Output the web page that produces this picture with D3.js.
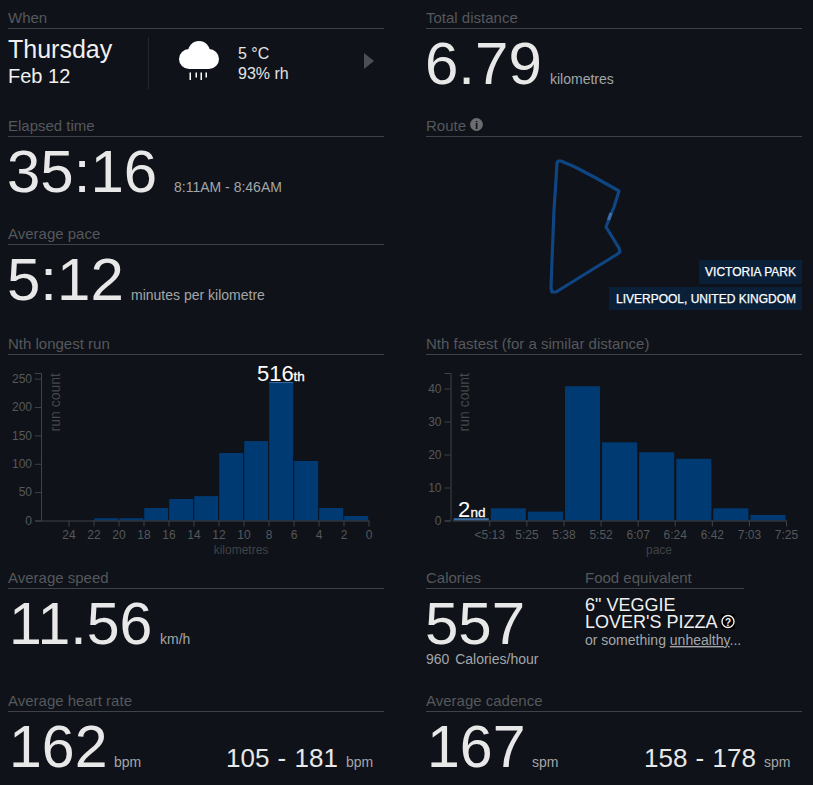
<!DOCTYPE html>
<html>
<head>
<meta charset="utf-8">
<script src="https://cdn.jsdelivr.net/npm/d3@7"></script>
<style>
  html, body { margin: 0; padding: 0; background: #0f1218; }
  svg { display: block; font-family: "Liberation Sans", Arial, sans-serif; }
  text { white-space: pre; }
</style>
</head>
<body>
<svg id="page" width="813" height="785"></svg>
<script>
// longest run histogram, bins run from 0 km upwards in 2 km steps
const distanceBins = [0, 2, 4, 6, 8, 10, 12, 14, 16, 18, 20];
const distanceCounts = [8, 22, 105, 244, 140, 119, 43, 38, 22, 4, 4];
const distanceTicks = [0, 2, 4, 6, 8, 10, 12, 14, 16, 18, 20, 22, 24];
const countTicks = [0, 50, 100, 150, 200, 250];
const distanceCurrentBin = 3;

// fastest run histogram
const paceLabels = ["<5:13", "5:25", "5:38", "5:52", "6:07", "6:24", "6:42", "7:03", "7:25"];
const paceCounts = [1, 4, 3, 41, 24, 21, 19, 4, 2];
const paceCountTicks = [0, 10, 20, 30, 40];

// route trace in page pixels
const routeX = [558, 561, 575, 596, 619, 614, 609, 606, 619, 620, 616, 590, 556, 552, 551, 552, 554, 556, 557];
const routeY = [161, 161, 167, 178, 191, 207, 219, 227, 248, 252, 255, 271, 292, 292, 288, 260, 210, 180, 163];
const routeHighlight = [[608.5, 220], [611, 213]];

const placeLabels = ["VICTORIA PARK", "LIVERPOOL, UNITED KINGDOM"];

const svg = d3.select("#page");

const labelColor = "#55585c";
const ruleColor = "#3f4246";
const bigColor = "#e8e8e8";
const subColor = "#a3a6a9";
const barColor = "#003a72";
const barHighlight = "#3b6ea8";

function addText(x, y, str, size, color, anchor) {
  return svg.append("text")
    .attr("x", x)
    .attr("y", y)
    .attr("font-size", size)
    .attr("fill", color)
    .attr("text-anchor", anchor || "start")
    .text(str);
}

function sectionHead(x, y, str, width) {
  addText(x, y, str, 15, labelColor);
  svg.append("line")
    .attr("x1", x).attr("x2", x + width)
    .attr("y1", y + 5.5).attr("y2", y + 5.5)
    .attr("stroke", ruleColor);
}

// section headers
sectionHead(8, 23, "When", 376);
sectionHead(426, 23, "Total distance", 376);
sectionHead(8, 131, "Elapsed time", 376);
sectionHead(426, 131, "Route", 376);
sectionHead(8, 239, "Average pace", 376);
sectionHead(8, 349, "Nth longest run", 376);
sectionHead(426, 349, "Nth fastest (for a similar distance)", 376);
sectionHead(8, 583, "Average speed", 376);
sectionHead(426, 583, "Calories", 159);
sectionHead(585, 583, "Food equivalent", 159);
sectionHead(8, 706, "Average heart rate", 376);
sectionHead(426, 706, "Average cadence", 376);

// when row
addText(8, 58, "Thursday", 25, "#f0f0f0");
addText(8, 83, "Feb 12", 20, "#f0f0f0");
svg.append("line")
  .attr("x1", 148.5).attr("x2", 148.5)
  .attr("y1", 37).attr("y2", 89)
  .attr("stroke", "#24272b");

// weather icon
const cloud = svg.append("g").attr("fill", "#fff");
cloud.append("circle").attr("cx", 199).attr("cy", 52).attr("r", 11);
cloud.append("circle").attr("cx", 189).attr("cy", 59).attr("r", 10);
cloud.append("circle").attr("cx", 209).attr("cy", 59).attr("r", 10);
cloud.append("rect").attr("x", 189).attr("y", 55).attr("width", 20).attr("height", 14);
[190, 196, 201, 206].forEach((x, i) => {
  cloud.append("rect")
    .attr("x", x - 0.5).attr("y", 72.5)
    .attr("width", 1.5).attr("height", i % 2 ? 5 : 7.5);
});

addText(238, 59, "5 °C", 16, "#e4e4e4");
addText(238, 79, "93% rh", 16, "#e4e4e4");
svg.append("path")
  .attr("d", "M364,53L374,61L364,69Z")
  .attr("fill", "#4b4e52");

// big numbers
addText(425, 84, "6.79", 60, bigColor);
addText(550, 84, "kilometres", 14, subColor);
addText(7, 192, "35:16", 60, bigColor);
addText(174, 192, "8:11AM - 8:46AM", 14, subColor);
addText(7, 300, "5:12", 60, bigColor);
addText(131, 300, "minutes per kilometre", 14, subColor);
addText(9, 644, "11.56", 59, bigColor);
addText(160, 644, "km/h", 14, subColor);
addText(425, 644, "557", 60, bigColor);
addText(426, 664, "960  Calories/hour", 14, subColor).attr("word-spacing", -1);
addText(9, 767, "162", 59, bigColor);
addText(114, 767, "bpm", 14, subColor);
addText(226, 767, "105 - 181", 26, bigColor).attr("word-spacing", 1);
addText(346, 767, "bpm", 14, subColor);
addText(427, 767, "167", 59, bigColor);
addText(532, 767, "spm", 14, subColor);
addText(644, 767, "158 - 178", 26, bigColor).attr("word-spacing", 1);
addText(764, 767, "spm", 14, subColor);

// food block
addText(585, 611, "6\" VEGGIE", 18, "#f0f0f0");
addText(585, 628, "LOVER'S PIZZA", 18, "#f0f0f0");
svg.append("rect").attr("x", 721).attr("y", 614).attr("width", 14).attr("height", 15).attr("fill", "#000");
svg.append("circle").attr("cx", 728).attr("cy", 621.5).attr("r", 6)
  .attr("fill", "none").attr("stroke", "#f0f0f0").attr("stroke-width", 1.4);
addText(728, 625.5, "?", 10, "#f0f0f0", "middle").attr("font-weight", "bold");
const orText = addText(585, 645, "or something ", 14, subColor);
orText.append("tspan").attr("text-decoration", "underline").text("unhealthy");
orText.append("tspan").text("...");

// route info icon
svg.append("circle").attr("cx", 476.5).attr("cy", 124.5).attr("r", 6.4).attr("fill", "#6a6d70");
addText(476.5, 129, "i", 11.5, "#0f1218", "middle").attr("font-weight", "bold");

// route
const routeLine = d3.line().curve(d3.curveLinear);
svg.append("path")
  .attr("d", routeLine(routeX.map((x, i) => [x, routeY[i]])) + "Z")
  .attr("fill", "none")
  .attr("stroke", "#0e4582")
  .attr("stroke-width", 3.2)
  .attr("stroke-linejoin", "round");
svg.append("path")
  .attr("d", routeLine(routeHighlight))
  .attr("fill", "none")
  .attr("stroke", barHighlight)
  .attr("stroke-width", 3.2);

// place tags, right aligned to the rule
const tagBoxes = [[699, 260, 103, 24], [609, 287, 193, 23]];
placeLabels.forEach((str, i) => {
  const b = tagBoxes[i];
  svg.append("rect")
    .attr("x", b[0]).attr("y", b[1])
    .attr("width", b[2]).attr("height", b[3])
    .attr("fill", "#0a2039");
  addText(b[0] + b[2] - 6, b[1] + 16, str, 12, "#fff", "end")
    .attr("stroke", "#fff").attr("stroke-width", 0.25);
});

function styleAxis(g) {
  g.selectAll("path, line").attr("stroke", ruleColor).attr("stroke-width", 1);
  g.selectAll("text").attr("fill", labelColor).attr("font-size", 12)
    .attr("font-family", "Liberation Sans, Arial, sans-serif");
}

function yTitle(x, str) {
  svg.append("text")
    .attr("transform", `translate(${x},373) rotate(-90)`)
    .attr("text-anchor", "end")
    .attr("font-size", 14)
    .attr("fill", "#45484c")
    .text(str);
}

// left histogram
const xDist = d3.scaleLinear().domain([0, 26.2]).range([368.5, 41]);
const yDist = d3.scaleLinear().domain([0, 260]).range([520.5, 373]);

svg.selectAll(".dist-bar")
  .data(distanceCounts)
  .join("rect")
  .attr("class", "dist-bar")
  .attr("x", (d, i) => xDist(distanceBins[i] + 2) + 0.7)
  .attr("y", d => yDist(d))
  .attr("width", (d, i) => xDist(distanceBins[i]) - xDist(distanceBins[i] + 2) - 1)
  .attr("height", d => yDist(0) - yDist(d))
  .attr("fill", barColor);

// this run's place in the bin, a thin cap on its bar
svg.append("rect")
  .attr("x", xDist(distanceBins[distanceCurrentBin] + 2) + 0.7)
  .attr("y", yDist(distanceCounts[distanceCurrentBin]))
  .attr("width", xDist(distanceBins[distanceCurrentBin]) - xDist(distanceBins[distanceCurrentBin] + 2) - 1)
  .attr("height", 1)
  .attr("fill", barHighlight);

svg.append("g")
  .attr("transform", "translate(0,520.5)")
  .call(d3.axisBottom(xDist).tickValues(distanceTicks).tickFormat(d3.format("d")).tickSize(6).tickPadding(4).tickSizeOuter(0))
  .call(styleAxis);
svg.append("g")
  .attr("transform", "translate(41,0)")
  .call(d3.axisLeft(yDist).tickValues(countTicks).tickSize(6))
  .call(styleAxis);
yTitle(60, "run count");
addText(241, 554, "kilometres", 12, "#3f4246", "middle");

addText(257, 381, "516", 22, "#fff");
addText(293.5, 381, "th", 13.5, "#fff").attr("stroke", "#fff").attr("stroke-width", 0.3);

// right histogram, ticks sit on the right edge of each bin
const xPace = d3.scaleLinear().domain([0, paceLabels.length]).range([452.2, 786]);
const yPace = d3.scaleLinear().domain([0, 44.7]).range([520.5, 373]);

svg.selectAll(".pace-bar")
  .data(paceCounts)
  .join("rect")
  .attr("class", "pace-bar")
  .attr("x", (d, i) => xPace(i) + 1.5)
  .attr("y", d => yPace(d) + 1)
  .attr("width", (d, i) => xPace(i + 1) - xPace(i) - 2)
  .attr("height", d => yPace(0) - yPace(d) - 1)
  .attr("fill", (d, i) => i === 0 ? barHighlight : barColor);

svg.append("g")
  .attr("transform", "translate(0,520.5)")
  .call(d3.axisBottom(xPace)
    .tickValues(d3.range(1, paceLabels.length + 1))
    .tickFormat(i => paceLabels[i - 1])
    .tickSize(6).tickPadding(4).tickSizeOuter(0))
  .call(styleAxis);
svg.append("g")
  .attr("transform", "translate(450.5,0)")
  .call(d3.axisLeft(yPace).tickValues(paceCountTicks).tickSize(6))
  .call(styleAxis);
yTitle(469, "run count");
addText(659, 554, "pace", 12, "#3f4246", "middle");

addText(458, 517, "2", 22, "#fff");
addText(470.5, 517, "nd", 13.5, "#fff").attr("stroke", "#fff").attr("stroke-width", 0.3);
</script>
</body>
</html>
